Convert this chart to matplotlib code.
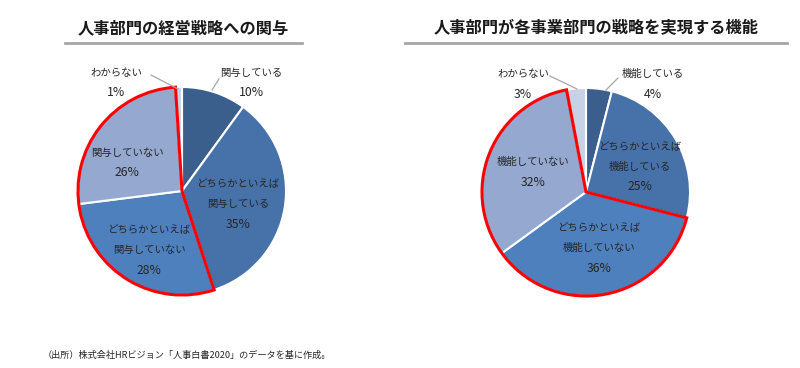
import matplotlib
matplotlib.use('Agg')
import matplotlib.pyplot as plt
from matplotlib.patches import Wedge

plt.rcParams['font.family'] = ['Noto Sans CJK JP', 'DejaVu Sans']

W, H = 800, 368

titles = ['人事部門の経営戦略への関与', '人事部門が各事業部門の戦略を実現する機能']

values_left = [10, 35, 28, 26, 1]
labels_left = ['関与している', 'どちらかといえば\n関与している', 'どちらかといえば\n関与していない',
               '関与していない', 'わからない']

values_right = [4, 25, 36, 32, 3]
labels_right = ['機能している', 'どちらかといえば\n機能している', 'どちらかといえば\n機能していない',
                '機能していない', 'わからない']

source = '（出所）株式会社HRビジョン「人事白書2020」のデータを基に作成。'

colors = ['#3a5f8d', '#4672a9', '#4f80be', '#95a8d0', '#c8d2e7']

# pixel layout (y measured from top of image)
centers = [(182, 191), (586, 192)]
radius = 104
title_x = [183, 596]
rule_x = [(65, 302), (405, 787)]
# centre of the percentage line for each slice
pct_pos = [
    [(251, 93), (238, 224), (149, 270), (127, 173), (116, 93)],
    [(653, 94), (640, 187), (599, 268), (533, 182), (523, 94)],
]
line_step = 20
leaders = [
    [((219, 79), (212, 90)), ((151, 75), (178, 89))],
    [((618, 78), (606, 90)), ((550, 76), (577, 89))],
]

fig = plt.figure(figsize=(W / 100, H / 100), dpi=100)
ax = fig.add_axes([0, 0, 1, 1])

def py(y):
    return H - y

data = [(values_left, labels_left), (values_right, labels_right)]
for i, (vals, labs) in enumerate(data):
    cx, cy = centers[i]
    ax.pie(vals, colors=colors, startangle=90, counterclock=False,
           center=(cx, py(cy)), radius=radius,
           wedgeprops=dict(edgecolor='white', linewidth=1.5))

    # red outline around the "not" slices (3rd + 4th)
    total = sum(vals)
    start = sum(vals[:2]) / total
    end = sum(vals[:4]) / total
    ax.add_patch(Wedge((cx, py(cy)), radius, 90 - 360 * end, 90 - 360 * start,
                       fill=False, edgecolor='#ff0000', linewidth=2.2, zorder=5))

    for k, (lab, v) in enumerate(zip(labs, vals)):
        x, y = pct_pos[i][k]
        n = lab.count('\n') + 1
        ax.text(x, py(y), f'{v}%', ha='center', va='center', fontsize=8.8,
                color='#262626', zorder=6)
        ly = y - line_step - (n - 1) * line_step / 2
        ax.text(x, py(ly), lab, ha='center', va='center', fontsize=7.5,
                color='#262626', linespacing=2.15, zorder=6)

    for (a, b) in leaders[i]:
        ax.plot([a[0], b[0]], [py(a[1]), py(b[1])], color='#a6a6a6', lw=0.9, zorder=6)

    ax.text(title_x[i], py(28), titles[i], ha='center', va='center',
            fontsize=11.7, fontweight='bold', color='#1a1a1a')
    ax.plot(rule_x[i], [py(43), py(43)], color='#a6a6a6', lw=2)

ax.text(43, py(355), source, ha='left', va='center', fontsize=6.6, color='#262626')

ax.set_xlim(0, W)
ax.set_ylim(0, H)
ax.set_aspect('auto')
ax.axis('off')

fig.savefig('out.png', dpi=100)
